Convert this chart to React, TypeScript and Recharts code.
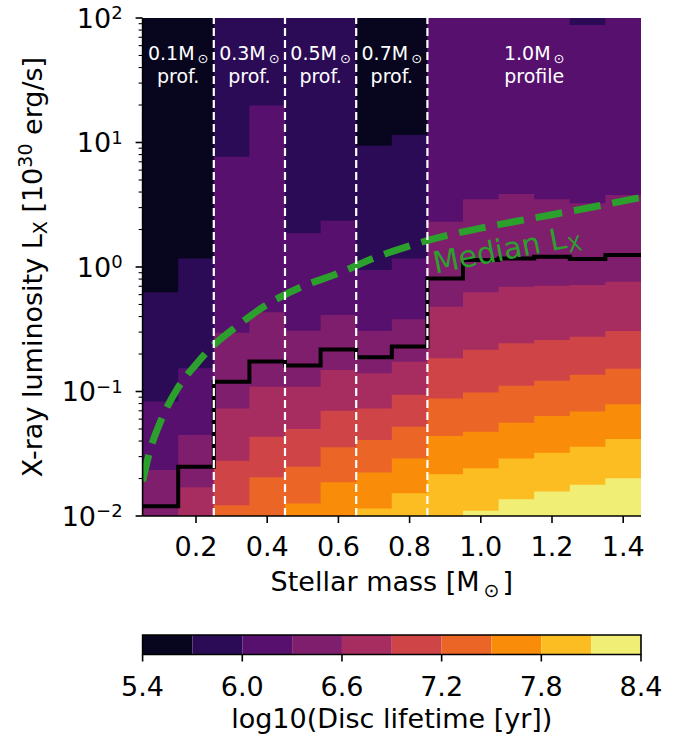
import React from 'react';
import { ComposedChart, Area, Line, XAxis, YAxis, ReferenceLine, ReferenceDot, ReferenceArea, Label } from 'recharts';

const FONT = '"DejaVu Sans", sans-serif';

if (typeof document !== 'undefined') document.body.style.margin = '0';

// left edges of the 0.1 Msun mass bins (+ right edge of the last one)
const massEdges = [0.05, 0.15, 0.25, 0.35, 0.45, 0.55, 0.65, 0.75, 0.85, 0.95, 1.05, 1.15, 1.25, 1.35, 1.45];

// Lx [1e30 erg/s] where log10(lifetime) crosses each contour level, one value per mass bin
const lx57 = [0.627, 1.17, 100, 100, 100, 100, 9.4, 11.5, 100, 100, 100, 100, 100, 100];
const lx60 = [0.083, 0.154, 7.7, 19.8, 1.87, 2.35, 0.946, 1.17, 100, 100, 100, 100, 88, 100];
const lx63 = [0.0234, 0.0448, 0.297, 0.433, 0.308, 0.411, 0.306, 0.38, 2.31, 3.5, 3.86, 3.5, 3.25, 3.78];
const lx66 = [0.01, 0.017, 0.073, 0.109, 0.109, 0.149, 0.14, 0.173, 0.48, 0.627, 0.695, 0.708, 0.716, 0.762];
const lx69 = [0.01, 0.01, 0.0278, 0.0434, 0.05, 0.07, 0.073, 0.094, 0.185, 0.216, 0.244, 0.259, 0.275, 0.306];
const lx72 = [0.01, 0.01, 0.0122, 0.0205, 0.0249, 0.0356, 0.0408, 0.0521, 0.088, 0.098, 0.111, 0.122, 0.136, 0.152];
const lx75 = [0.01, 0.01, 0.01, 0.01, 0.0126, 0.0187, 0.0224, 0.029, 0.044, 0.0476, 0.0561, 0.0636, 0.069, 0.079];
const lx78 = [0.01, 0.01, 0.01, 0.01, 0.01, 0.01, 0.0115, 0.0152, 0.0216, 0.0242, 0.029, 0.0322, 0.036, 0.0416];
const lx81 = [0.01, 0.01, 0.01, 0.01, 0.01, 0.01, 0.01, 0.01, 0.01, 0.011, 0.0136, 0.0157, 0.0178, 0.0201];

// black step line
const medianLifeLx = [0.012, 0.0249, 0.12, 0.174, 0.162, 0.217, 0.188, 0.23, 0.81, 1.14, 1.17, 1.21, 1.16, 1.25];

// green dashed "Median Lx" curve
const medianLxMass = [0.05, 0.07, 0.1, 0.15, 0.2, 0.25, 0.3, 0.4, 0.5, 0.6, 0.7, 0.8, 0.9, 1.0, 1.1, 1.2, 1.3, 1.45];
const medianLxValue = [0.019, 0.033, 0.057, 0.108, 0.165, 0.236, 0.31, 0.5, 0.7, 0.89, 1.18, 1.48, 1.78, 2.05, 2.33, 2.63, 2.98, 3.62];

const levels = [5.4, 5.7, 6.0, 6.3, 6.6, 6.9, 7.2, 7.5, 7.8, 8.1, 8.4];
const levelColors = ['#08061e', '#2c0b56', '#57106e', '#7f1e6c', '#a72d60', '#cf4446', '#eb6527', '#f98d0a', '#fbbd22', '#f1ee76'];
const cbarTicks = [5.4, 6.0, 6.6, 7.2, 7.8, 8.4];

const xTicks = [0.2, 0.4, 0.6, 0.8, 1.0, 1.2, 1.4];
const profileEdges = [0.25, 0.45, 0.65, 0.85];
const profileMass = [0.15, 0.35, 0.55, 0.75, 1.15];
const profileTop = ['0.1', '0.3', '0.5', '0.7', '1.0'];
const profileBottom = ['prof.', 'prof.', 'prof.', 'prof.', 'profile'];

const boundaries = [lx57, lx60, lx63, lx66, lx69, lx72, lx75, lx78, lx81];

const rows = massEdges.map((m, i) => {
    const j = Math.min(i, medianLifeLx.length - 1);
    const row: any = { m, life: Math.log10(medianLifeLx[j]), c0: [-2, 2] };
    boundaries.forEach((b, k) => {
        row['c' + (k + 1)] = [-2, Math.log10(b[j])];
    });
    return row;
});

const medianLxData = medianLxMass.map((m, i) => ({ m, lx: Math.log10(medianLxValue[i]) }));

const cbarRows = [{ v: levels[0], y: 0 }, { v: levels[levels.length - 1], y: 1 }];

const yTicks: number[] = [];
for (let d = -2; d <= 1; d++) {
    yTicks.push(d);
    for (let k = 2; k <= 9; k++) yTicks.push(d + Math.log10(k));
}
yTicks.push(2);

const sup = (v: number) => (v < 0 ? '\u2212' + Math.abs(v) : String(v));

const YTick = (props: any) => {
    const { x, y, payload } = props;
    const v = payload.value;
    const major = Math.abs(v - Math.round(v)) < 1e-6;
    return (
        <g>
            <line x1={x} x2={x - (major ? 7 : 4)} y1={y} y2={y} stroke="#000" strokeWidth={major ? 1.6 : 1.1} />
            {major && (
                <text x={x - 20} y={y + 9.8} textAnchor="end" fontSize={27} fontFamily={FONT} fill="#000">
                    10<tspan dy={-8.5} fontSize={18}>{sup(Math.round(v))}</tspan>
                </text>
            )}
        </g>
    );
};

const XTick = (props: any) => {
    const { x, y, payload } = props;
    return (
        <g>
            <line x1={x} x2={x} y1={y} y2={y + 7} stroke="#000" strokeWidth={1.6} />
            <text x={x} y={y + 39.7} textAnchor="middle" fontSize={27} fontFamily={FONT} fill="#000">
                {payload.value.toFixed(1)}
            </text>
        </g>
    );
};

const CbarTick = (props: any) => {
    const { x, y, payload } = props;
    return (
        <g>
            <line x1={x} x2={x} y1={y} y2={y + 7} stroke="#000" strokeWidth={1.6} />
            <text x={x} y={y + 41} textAnchor="middle" fontSize={27} fontFamily={FONT} fill="#000">
                {payload.value.toFixed(1)}
            </text>
        </g>
    );
};

const profileShape = (i: number) => (p: any) => (
    <g>
        <text x={p.cx} y={p.cy} textAnchor="middle" fontSize={19} fontFamily={FONT} fill="#fff">
            {profileTop[i]}M<tspan fontSize={13} dx={3} dy={3}>{'\u2299'}</tspan>
        </text>
        <text x={p.cx} y={p.cy + 23} textAnchor="middle" fontSize={19} fontFamily={FONT} fill="#fff">
            {profileBottom[i]}
        </text>
    </g>
);

const medianTextShape = (p: any) => (
    <text x={p.cx - 3} y={p.cy} transform={`rotate(-11 ${p.cx} ${p.cy})`} fontSize={30} fontFamily={FONT} fill="#2ca02c">
        Median L<tspan fontSize={21} dy={5}>X</tspan>
    </text>
);

const xLabel = (props: any) => {
    const { x, y, width } = props.viewBox;
    return (
        <text x={x + width / 2} y={y + 75} textAnchor="middle" fontSize={27} fontFamily={FONT} fill="#000">
            Stellar mass [M<tspan fontSize={19} dx={4} dy={5.5}>{'\u2299'}</tspan>
            <tspan dx={3} dy={-5.5}>]</tspan>
        </text>
    );
};

const yLabel = (props: any) => {
    const { y, height } = props.viewBox;
    const cx = 42;
    const cy = y + height / 2;
    return (
        <text x={cx} y={cy} transform={`rotate(-90 ${cx} ${cy})`} textAnchor="middle" fontSize={27} fontFamily={FONT} fill="#000">
            X-ray luminosity L<tspan fontSize={19} dy={5}>X</tspan>
            <tspan dy={-5}> [10</tspan>
            <tspan fontSize={19} dy={-10}>30</tspan>
            <tspan dy={10}> erg/s]</tspan>
        </text>
    );
};

const cbarLabel = (props: any) => {
    const { x, y, width } = props.viewBox;
    return (
        <text x={x + width / 2} y={y + 73.5} textAnchor="middle" fontSize={27} fontFamily={FONT} fill="#000">
            log10(Disc lifetime [yr])
        </text>
    );
};

const frame = { stroke: '#000', strokeWidth: 1.6 };

export default function App() {
    return (
        <div style={{ width: 689, height: 740 }}>
            <ComposedChart width={689} height={600} data={rows} margin={{ top: 18, right: 48, bottom: 0, left: 0 }}>
                {levelColors.map((c, k) => (
                    <Area
                        key={'band' + k}
                        dataKey={'c' + k}
                        type="stepAfter"
                        stroke="none"
                        fill={c}
                        fillOpacity={1}
                        dot={false}
                        activeDot={false}
                        isAnimationActive={false}
                    />
                ))}
                <Line dataKey="life" type="stepAfter" stroke="#000" strokeWidth={4} dot={false} activeDot={false} isAnimationActive={false} />
                <Line
                    data={medianLxData}
                    dataKey="lx"
                    type="monotone"
                    stroke="#2ca02c"
                    strokeWidth={7}
                    strokeDasharray="27 12"
                    dot={false}
                    activeDot={false}
                    isAnimationActive={false}
                />
                {profileEdges.map((m) => (
                    <ReferenceLine key={'edge' + m} x={m} stroke="#fff" strokeWidth={2.2} strokeDasharray="8 4" />
                ))}
                {profileMass.map((m, i) => (
                    <ReferenceDot key={'lab' + i} x={m} y={Math.log10(46)} r={1} shape={profileShape(i)} />
                ))}
                <ReferenceDot x={0.88} y={Math.log10(0.895)} r={1} shape={medianTextShape} />
                <XAxis
                    dataKey="m"
                    type="number"
                    domain={[0.05, 1.45]}
                    ticks={xTicks}
                    interval={0}
                    allowDataOverflow
                    height={84}
                    tickSize={0}
                    tickMargin={0}
                    tick={<XTick />}
                    axisLine={frame}
                >
                    <Label content={xLabel} />
                </XAxis>
                <XAxis xAxisId="top" orientation="top" type="number" domain={[0.05, 1.45]} allowDataOverflow height={0} tick={false} tickLine={false} axisLine={frame} />
                <YAxis
                    type="number"
                    domain={[-2, 2]}
                    ticks={yTicks}
                    interval={0}
                    allowDataOverflow
                    width={142.6}
                    tickSize={0}
                    tickMargin={0}
                    tick={<YTick />}
                    axisLine={frame}
                >
                    <Label content={yLabel} />
                </YAxis>
                <YAxis yAxisId="right" orientation="right" type="number" domain={[-2, 2]} allowDataOverflow width={0} tick={false} tickLine={false} axisLine={frame} />
            </ComposedChart>
            <ComposedChart width={689} height={140} data={cbarRows} margin={{ top: 35, right: 48, bottom: 0, left: 142.6 }}>
                <Line dataKey="y" stroke="none" dot={false} activeDot={false} isAnimationActive={false} />
                {levelColors.map((c, k) => (
                    <ReferenceArea
                        key={'cb' + k}
                        x1={levels[k]}
                        x2={levels[k + 1]}
                        y1={0}
                        y2={1}
                        fill={c}
                        fillOpacity={1}
                        stroke="none"
                        ifOverflow="visible"
                    />
                ))}
                <ReferenceArea x1={5.4} x2={8.4} y1={0} y2={1} fill="none" stroke="#000" strokeWidth={1.6} ifOverflow="visible" />
                <XAxis
                    dataKey="v"
                    type="number"
                    domain={[5.4, 8.4]}
                    ticks={cbarTicks}
                    interval={0}
                    allowDataOverflow
                    height={85.5}
                    tickSize={0}
                    tickMargin={0}
                    tick={<CbarTick />}
                    axisLine={false}
                >
                    <Label content={cbarLabel} />
                </XAxis>
                <YAxis type="number" domain={[0, 1]} allowDataOverflow hide />
            </ComposedChart>
        </div>
    );
}
